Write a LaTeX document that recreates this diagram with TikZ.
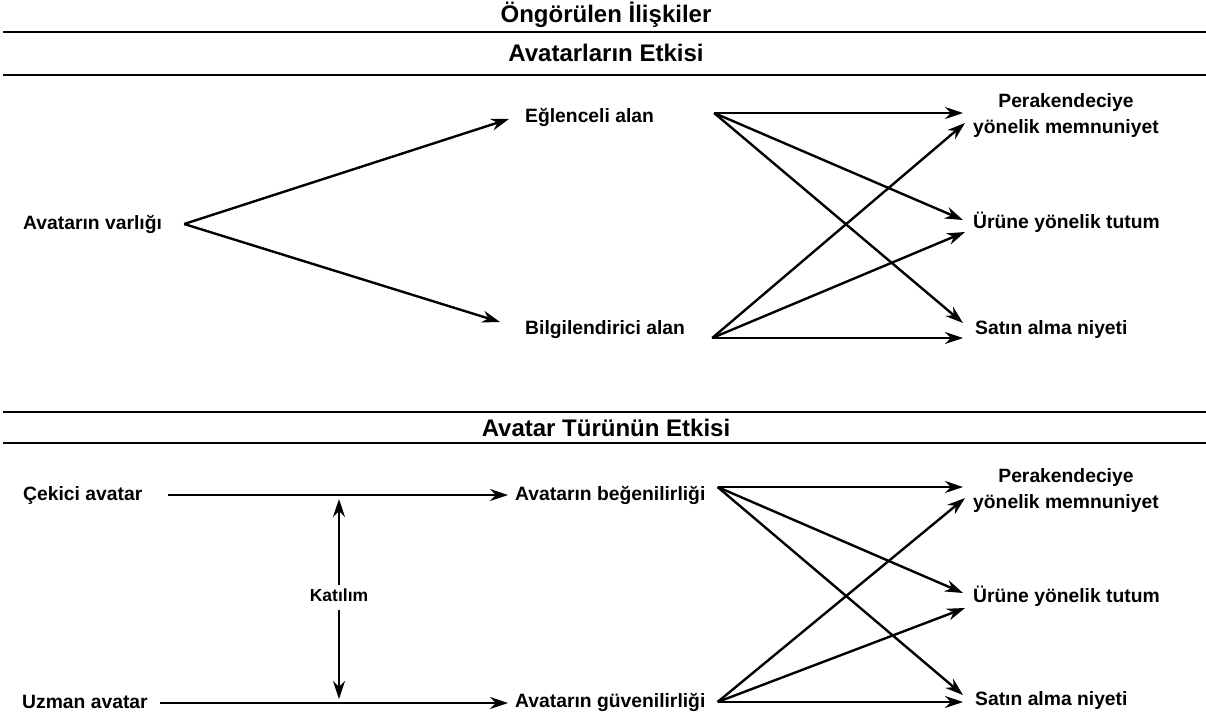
\documentclass[tikz,border=0pt]{standalone}
\usepackage{fontspec}
\setmainfont{Liberation Sans}
\usetikzlibrary{arrows.meta}

\begin{document}
\begin{tikzpicture}[x=1pt, y=-1pt, font=\bfseries\fontsize{19.3}{26}\selectfont]

% Styles
\tikzset{
  lbl/.style={
    inner sep=0pt,
    anchor=west,
    align=center
  },
  heading/.style={
    inner sep=0pt,
    font=\bfseries\fontsize{24}{28}\selectfont
  },
  sepline/.style={
    line width=2.8pt
  },
  link/.style={
    -{Stealth[length=18pt, width=12pt]},
    line width=2.4pt
  }
}

\useasboundingbox (0,0) rectangle (1206,713);

% Headings and rules
\node[heading] (ttl) at (606,15) {Öngörülen İlişkiler};
\node[heading] (sec1) at (606,53) {Avatarların Etkisi};
\node[heading] (sec2) at (606,428) {Avatar Türünün Etkisi};
\draw[sepline] (3,32) -- (1206,32);
\draw[sepline] (3,75) -- (1206,75);
\draw[sepline] (3,412) -- (1206,412);
\draw[sepline] (3,443) -- (1206,443);

% Nodes (presence of avatar)
\node[lbl] (vrl) at (23,224) {Avatarın varlığı};
\node[lbl] (egl) at (525,117) {Eğlenceli alan};
\node[lbl] (blg) at (525,330) {Bilgilendirici alan};
\node[lbl] (mem1) at (973,116) {Perakendeciye\\yönelik memnuniyet};
\node[lbl] (tut1) at (973,222) {Ürüne yönelik tutum};
\node[lbl] (sat1) at (975,330) {Satın alma niyeti};

% Nodes (avatar type)
\node[lbl] (cek) at (23,495) {Çekici avatar};
\node[lbl] (uzm) at (22,702) {Uzman avatar};
\node[lbl] (bgn) at (515,495) {Avatarın beğenilirliği};
\node[lbl] (gvn) at (515,702) {Avatarın güvenilirliği};
\node[lbl, anchor=center, font=\bfseries\fontsize{17.5}{20}\selectfont] (kat) at (339,595) {Katılım};
\node[lbl] (mem2) at (973,490) {Perakendeciye\\yönelik memnuniyet};
\node[lbl] (tut2) at (973,596) {Ürüne yönelik tutum};
\node[lbl] (sat2) at (975,700) {Satın alma niyeti};

% Links (presence of avatar)
\draw[link] ([xshift=22pt]vrl.east) -- ([xshift=-16pt, yshift=-2pt]egl.west);
\draw[link] ([xshift=22pt]vrl.east) -- ([xshift=-25pt, yshift=8pt]blg.west);
\draw[link] ([xshift=60pt, yshift=4pt]egl.east) -- ([xshift=-10pt, yshift=3pt]mem1.west);
\draw[link] ([xshift=60pt, yshift=4pt]egl.east) -- ([xshift=-10pt, yshift=2pt]tut1.west);
\draw[link] ([xshift=60pt, yshift=4pt]egl.east) -- ([xshift=-12pt, yshift=7pt]sat1.west);
\draw[link] ([xshift=27pt, yshift=-8pt]blg.east) -- ([xshift=-8pt, yshift=-7pt]mem1.west);
\draw[link] ([xshift=27pt, yshift=-8pt]blg.east) -- ([xshift=-8pt, yshift=-10pt]tut1.west);
\draw[link] ([xshift=27pt, yshift=-8pt]blg.east) -- ([xshift=-12pt, yshift=-8pt]sat1.west);

% Links (avatar type)
\draw[link] ([xshift=25pt]cek.east) -- ([xshift=-7pt]bgn.west);
\draw[link] ([xshift=12pt, yshift=-1pt]uzm.east) -- ([xshift=-7pt, yshift=-1pt]gvn.west);
\draw[link, shorten >=4pt] ([yshift=3pt]kat.north) -- (kat |- cek);
\draw[link, shorten >=3pt] ([yshift=-8pt]kat.south) -- (kat |- uzm);
\draw[link] ([xshift=12pt, yshift=8pt]bgn.east) -- ([xshift=-10pt, yshift=3pt]mem2.west);
\draw[link] ([xshift=12pt, yshift=8pt]bgn.east) -- ([xshift=-10pt, yshift=3pt]tut2.west);
\draw[link] ([xshift=12pt, yshift=8pt]bgn.east) -- ([xshift=-12pt, yshift=5pt]sat2.west);
\draw[link] ([xshift=12pt]gvn.east) -- ([xshift=-8pt, yshift=-8pt]mem2.west);
\draw[link] ([xshift=12pt]gvn.east) -- ([xshift=-8pt, yshift=-12pt]tut2.west);
\draw[link] ([xshift=12pt]gvn.east) -- ([xshift=-12pt, yshift=-2pt]sat2.west);

\end{tikzpicture}
\end{document}
